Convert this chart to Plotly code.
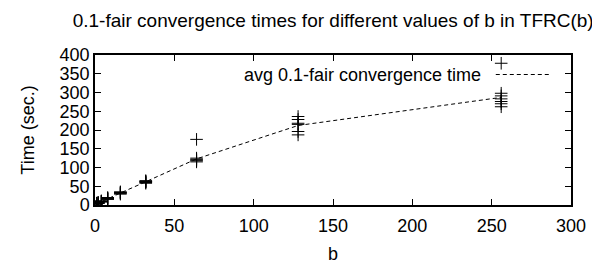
import plotly.graph_objects as go

# Data
b_values = [1, 2, 4, 8, 16, 32, 64, 128, 256]
runs = {
    1: [2, 3, 3, 4, 4, 5],
    2: [4, 5, 5, 6, 6, 7],
    4: [8, 9, 9, 10, 10, 11],
    8: [15, 16, 17, 17, 18, 20],
    16: [29, 31, 32, 33, 34, 35],
    32: [58, 60, 62, 62, 63, 65],
    64: [175, 115, 118, 120, 122, 125],
    128: [236, 228, 218, 215, 196, 187],
    256: [378, 298, 291, 283, 276, 270, 262],
}
avg_times = [3, 5, 9, 17, 32, 62, 123, 212, 287]
x_ticks = [0, 50, 100, 150, 200, 250, 300]
y_ticks = [0, 50, 100, 150, 200, 250, 300, 350, 400]

run_x = [b for b in b_values for _ in runs[b]]
run_y = [v for b in b_values for v in runs[b]]

FONT = "Liberation Sans, Arial, sans-serif"
FS = 18

fig = go.Figure()
fig.add_trace(go.Scatter(
    x=run_x, y=run_y, mode="markers",
    marker=dict(symbol="cross-thin", size=9, line=dict(width=1, color="black"), color="black"),
    showlegend=False,
))
fig.add_trace(go.Scatter(
    x=b_values, y=avg_times, mode="lines",
    line=dict(color="black", width=1, dash="4px,3px"),
    name="avg 0.1-fair convergence time", showlegend=False,
))

# manual gnuplot-style legend (text left, sample right)
fig.add_annotation(
    xref="paper", yref="paper", x=0.815, y=0.87, xanchor="right", yanchor="middle",
    text="avg 0.1-fair convergence time", showarrow=False,
    font=dict(family=FONT, size=FS, color="black"),
)
fig.add_shape(
    type="line", xref="paper", yref="paper", x0=0.842, x1=0.954, y0=0.87, y1=0.87,
    line=dict(color="black", width=1, dash="4px,3px"),
)

axis_common = dict(
    showline=True, linecolor="black", linewidth=1.5, mirror="allticks",
    ticks="inside", ticklen=6, tickwidth=1, tickcolor="black",
    showgrid=False, zeroline=False,
    tickfont=dict(family=FONT, size=FS, color="black"),
)

fig.update_layout(
    width=600, height=265,
    margin=dict(l=87, r=37, t=47, b=56),
    paper_bgcolor="white", plot_bgcolor="white",
    title=dict(text="0.1-fair convergence times for different values of b in TFRC(b)",
               x=0.542, xanchor="center", y=0.955, yanchor="middle",
               font=dict(family=FONT, size=19, color="black")),
    xaxis=dict(range=[0, 300], tickvals=x_ticks, ticklabelstandoff=4,
               title=dict(text="b", font=dict(family=FONT, size=FS, color="black"), standoff=12),
               **axis_common),
    yaxis=dict(range=[0, 400], tickvals=y_ticks,
               title=dict(text="Time (sec.)", font=dict(family=FONT, size=FS, color="black"), standoff=20),
               **axis_common),
)

fig.write_html("out.html")
